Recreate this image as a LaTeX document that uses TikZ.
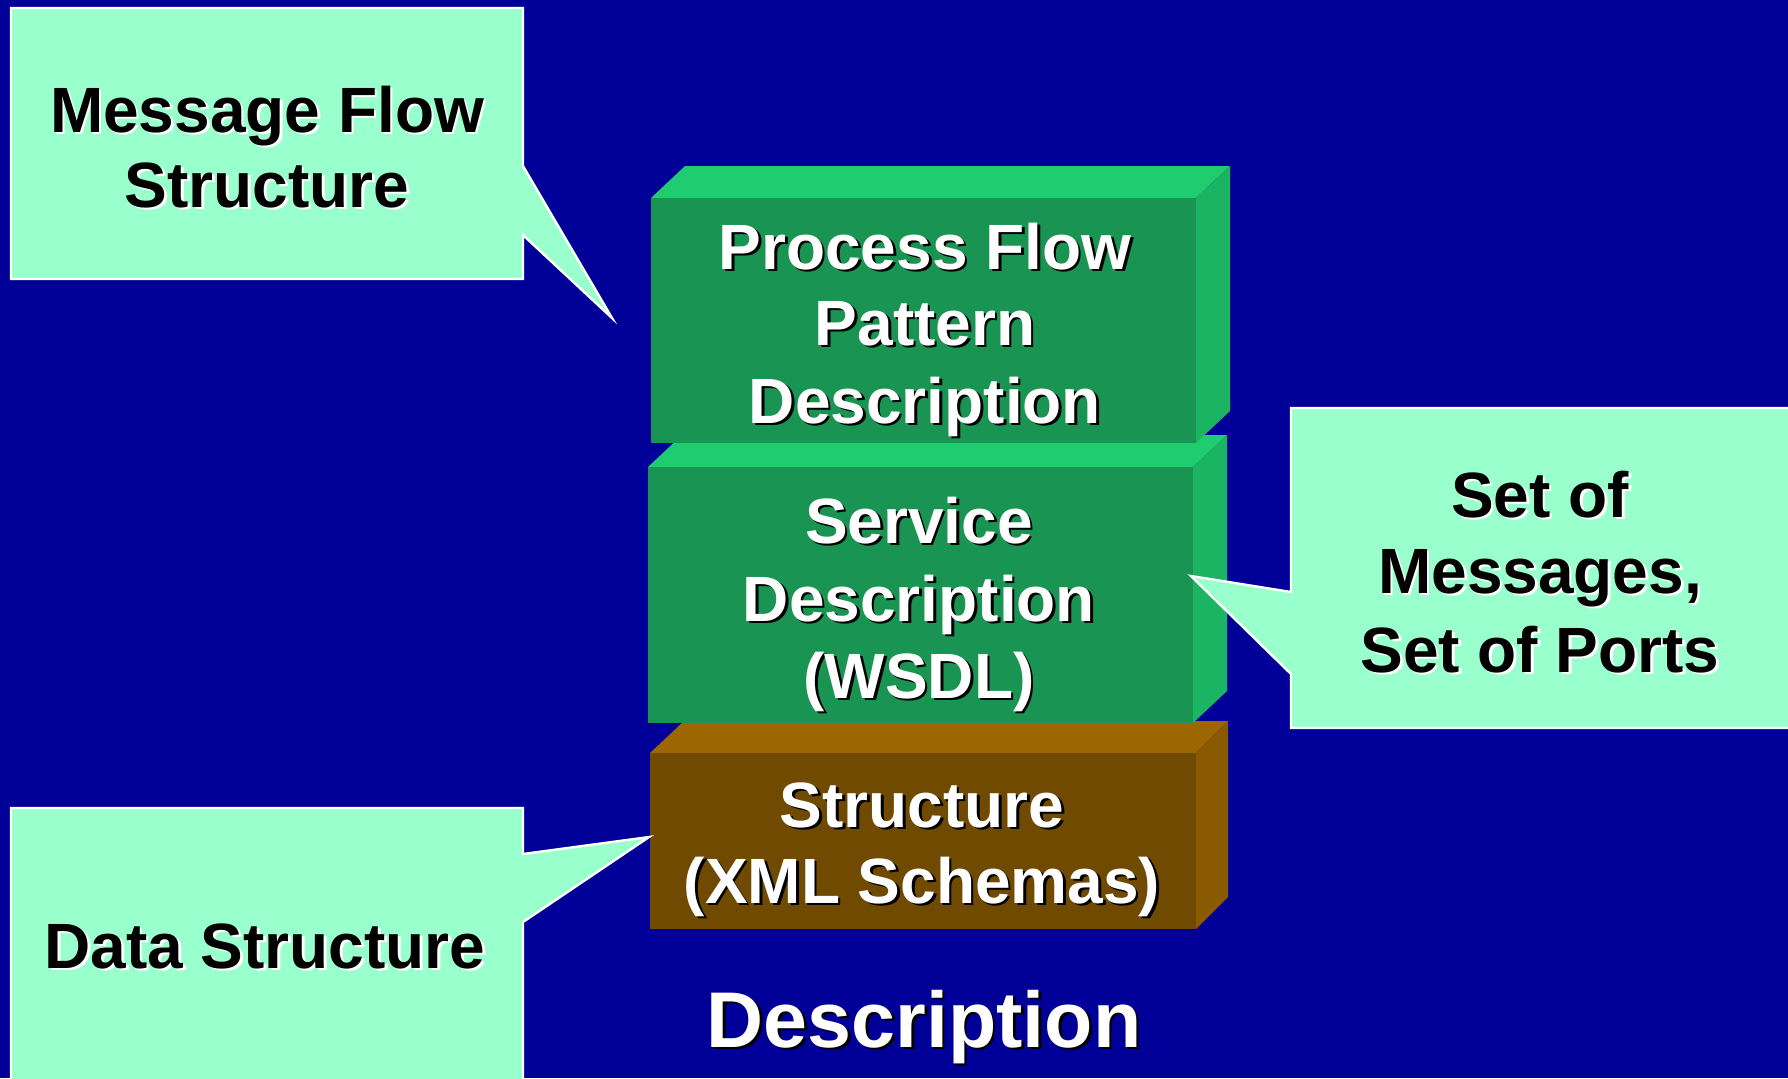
\documentclass[tikz,border=0pt]{standalone}
\usepackage{fontspec}
\setmainfont{Liberation Sans}
\definecolor{bg}{RGB}{0,0,153}
\definecolor{mint}{RGB}{153,255,204}
\definecolor{gfront}{RGB}{26,148,82}
\definecolor{gtop}{RGB}{31,204,112}
\definecolor{gside}{RGB}{26,180,98}
\definecolor{bfront}{RGB}{112,74,0}
\definecolor{btop}{RGB}{156,102,0}
\definecolor{bside}{RGB}{138,90,0}
\newcommand\wsh[1]{\rlap{\kern1.3pt\raisebox{-1.3pt}{\color{black}#1}}{\color{white}#1}}
\newcommand\bsh[1]{\rlap{\kern1.3pt\raisebox{-1.3pt}{\color{white}#1}}{\color{black}#1}}
\begin{document}
\begin{tikzpicture}[x=0.5pt,y=-0.5pt,
  txt/.style={anchor=base,inner sep=0pt,font=\fontsize{32}{38}\selectfont\bfseries},
  bigtxt/.style={anchor=base,inner sep=0pt,font=\fontsize{39.5}{46}\selectfont\bfseries},
  callout/.style={fill=mint,draw=white,line width=1.2pt,line join=miter}]
\useasboundingbox (0,0) rectangle (1788,1078);
\fill[bg] (0,0) rectangle (1788,1078);
\begin{scope}
\clip (0,0) rectangle (1788,1078);
% Structure block (bottom)
\fill[btop] (650,753) -- (684,721) -- (1228,721) -- (1196,753) -- cycle;
\fill[bside] (1196,753) -- (1228,721) -- (1228,897) -- (1196,929) -- cycle;
\fill[bfront] (650,753) rectangle (1196,929);
% Service block
\fill[gtop] (648,467) -- (682,435) -- (1227,435) -- (1193,467) -- cycle;
\fill[gside] (1193,467) -- (1227,435) -- (1227,691) -- (1193,723) -- cycle;
\fill[gfront] (648,467) rectangle (1193,723);
% Process block
\fill[gtop] (651,198) -- (685,166) -- (1230,166) -- (1196,198) -- cycle;
\fill[gside] (1196,198) -- (1230,166) -- (1230,411) -- (1196,443) -- cycle;
\fill[gfront] (651,198) rectangle (1196,443);
% callouts
\coordinate (tipA) at (612,318);
\coordinate (tipB) at (1191,576);
\coordinate (tipC) at (649,837);
\draw[callout] (11,8) -- (523,8) -- (523,166) -- (tipA) -- (523,235) -- (523,279) -- (11,279) -- cycle;
\draw[callout] (1291,408) -- (1800,408) -- (1800,728) -- (1291,728) -- (1291,674) -- (tipB) -- (1291,592) -- cycle;
\draw[callout] (11,808) -- (523,808) -- (523,854) -- (tipC) -- (523,922) -- (523,1095) -- (11,1095) -- cycle;
\end{scope}
% callout texts
\node[txt] (mf1) at (267,132) {\bsh{Message Flow}};
\node[txt] (mf2) at (267,207) {\bsh{Structure}};
\node[txt] (sm1) at (1540,517) {\bsh{Set of}};
\node[txt] (sm2) at (1540,593) {\bsh{Messages,}};
\node[txt] (sm3) at (1540,672) {\bsh{Set of Ports}};
\node[txt] (ds1) at (265,968) {\bsh{Data Structure}};
% block texts
\node[txt] (pf1) at (925,269) {\wsh{Process Flow}};
\node[txt] (pf2) at (925,345) {\wsh{Pattern}};
\node[txt] (pf3) at (925,423) {\wsh{Description}};
\node[txt] (sd1) at (919,543) {\wsh{Service}};
\node[txt] (sd2) at (919,621) {\wsh{Description}};
\node[txt] (sd3) at (919,698) {\wsh{(WSDL)}};
\node[txt] (st1) at (922,827) {\wsh{Structure}};
\node[txt] (st2) at (922,903) {\wsh{(XML Schemas)}};
\node[bigtxt] (desc) at (924,1047) {\wsh{Description}};
\end{tikzpicture}
\end{document}
